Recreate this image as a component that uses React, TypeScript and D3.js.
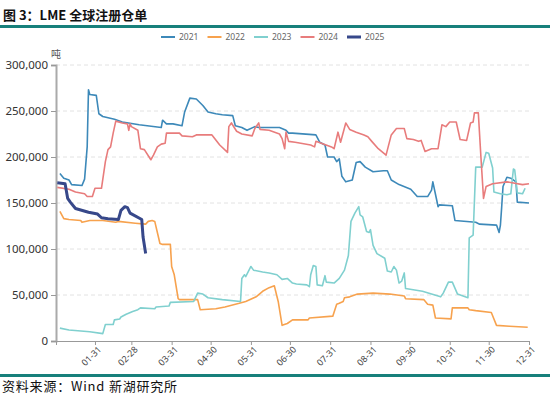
import React, { useEffect, useRef } from 'react';
import * as d3 from 'd3';

const years = ['2021', '2022', '2023', '2024', '2025'];
const colors = ['#3d89b9', '#f7a24e', '#80d0cf', '#e87c7c', '#37488a'];
const tickDates = ['01-31', '02-28', '03-31', '04-30', '05-31', '06-30', '07-31', '08-31', '09-30', '10-31', '11-30', '12-31'];
const yTicks = [0, 50000, 100000, 150000, 200000, 250000, 300000];

// values in tonnes
const s2021: [string, number][] = [
  ['01-04', 182000], ['01-07', 177000], ['01-11', 175000], ['01-13', 170000], ['01-21', 169000],
  ['01-23', 176000], ['01-25', 211000], ['01-26', 273000], ['01-27', 268000], ['02-01', 267000],
  ['02-03', 247000], ['02-06', 244000], ['02-15', 241000], ['02-21', 238000], ['03-06', 235000],
  ['03-23', 232000], ['03-24', 240000], ['03-27', 236000], ['04-01', 236000], ['04-08', 234000],
  ['04-10', 249000], ['04-14', 264000], ['04-19', 263000], ['04-24', 256000], ['04-28', 249000],
  ['05-04', 247000], ['05-09', 246000], ['05-17', 245000], ['05-19', 234000], ['05-24', 232000],
  ['05-28', 229000], ['06-03', 233000], ['06-06', 232000], ['06-22', 232000], ['06-27', 229000],
  ['06-29', 226000], ['07-02', 226000], ['07-20', 224000], ['07-23', 216000], ['07-27', 213000],
  ['07-29', 200000], ['08-03', 200000], ['08-05', 195000], ['08-07', 198000], ['08-09', 179000],
  ['08-12', 173000], ['08-17', 175000], ['08-20', 194000], ['08-23', 195000], ['08-27', 189000],
  ['09-02', 184000], ['09-10', 185000], ['09-13', 185000], ['09-16', 175000], ['09-22', 170000],
  ['10-01', 165000], ['10-06', 157000], ['10-14', 157000], ['10-17', 164000], ['10-18', 173000],
  ['10-21', 153000], ['10-22', 146000], ['10-23', 148000], ['11-02', 147000], ['11-04', 131000],
  ['11-20', 129000], ['11-23', 127000], ['12-06', 126000], ['12-08', 118000], ['12-09', 126000],
  ['12-10', 146000], ['12-11', 168000], ['12-14', 178000], ['12-17', 177000], ['12-21', 173000],
  ['12-22', 151000], ['12-31', 150000],
];

const s2022: [string, number][] = [
  ['01-04', 141000], ['01-07', 133000], ['01-11', 132000], ['01-20', 131000], ['01-21', 129000],
  ['01-27', 131000], ['02-06', 131000], ['02-16', 129000], ['02-18', 130000], ['03-03', 128000],
  ['03-11', 127000], ['03-13', 130000], ['03-16', 131000], ['03-18', 130000], ['03-22', 106000],
  ['03-24', 105000], ['03-30', 105000], ['03-31', 81000], ['04-02', 72000], ['04-05', 46000],
  ['04-06', 45000], ['04-20', 45000], ['04-22', 34000], ['05-04', 35000], ['05-11', 37000],
  ['05-22', 41000], ['05-27', 43000], ['06-04', 48000], ['06-09', 54000], ['06-14', 58000],
  ['06-18', 60000], ['06-21', 43000], ['06-24', 17000], ['06-28', 19000], ['07-02', 23000],
  ['07-14', 23000], ['07-15', 25000], ['08-02', 27000], ['08-05', 40000], ['08-07', 41000],
  ['08-10', 43000], ['08-11', 47000], ['08-15', 48000], ['08-21', 51000], ['09-02', 52000],
  ['09-15', 51000], ['09-26', 49000], ['09-27', 46000], ['10-11', 45000], ['10-14', 40000],
  ['10-18', 39000], ['10-20', 25000], ['11-01', 24000], ['11-02', 36000], ['11-14', 36000],
  ['11-15', 34000], ['11-20', 33000], ['12-02', 31000], ['12-06', 17000], ['12-16', 16000],
  ['12-30', 15000],
];

const s2023: [string, number][] = [
  ['01-04', 14000], ['01-11', 12000], ['01-27', 10000], ['02-06', 8000], ['02-08', 18000],
  ['02-14', 18000], ['02-15', 23000], ['02-19', 24000], ['02-20', 26000], ['02-24', 29000],
  ['03-01', 32000], ['03-05', 34000], ['03-07', 36000], ['03-18', 35000], ['03-19', 37000],
  ['03-29', 38000], ['03-30', 42000], ['04-17', 43000], ['04-20', 52000], ['04-24', 51000],
  ['04-28', 47000], ['05-09', 45000], ['05-23', 43000], ['05-24', 68000], ['05-26', 72000],
  ['05-27', 70000], ['05-31', 81000], ['06-02', 77000], ['06-09', 75000], ['06-14', 74000],
  ['06-20', 72000], ['06-24', 67000], ['06-28', 68000], ['07-02', 63000], ['07-05', 62000],
  ['07-13', 61000], ['07-15', 59000], ['07-16', 72000], ['07-18', 82000], ['07-20', 81000],
  ['07-21', 61000], ['07-25', 60000], ['07-27', 71000], ['07-28', 64000], ['08-03', 63000],
  ['08-07', 68000], ['08-11', 77000], ['08-14', 93000], ['08-16', 130000], ['08-19', 139000],
  ['08-22', 146000], ['08-23', 137000], ['08-25', 135000], ['08-28', 119000], ['08-30', 118000],
  ['08-31', 121000], ['09-02', 104000], ['09-05', 95000], ['09-11', 90000], ['09-13', 76000],
  ['09-16', 75000], ['09-18', 81000], ['09-20', 77000], ['09-22', 63000], ['09-24', 65000],
  ['09-26', 74000], ['09-27', 57000], ['10-10', 54000], ['10-24', 48000], ['10-26', 52000],
  ['10-30', 64000], ['11-02', 64000], ['11-06', 51000], ['11-14', 47000], ['11-15', 112000],
  ['11-18', 115000], ['11-20', 189000], ['11-25', 189000], ['11-28', 205000], ['11-30', 204000],
  ['12-03', 188000], ['12-04', 162000], ['12-09', 160000], ['12-14', 159000], ['12-17', 160000],
  ['12-19', 187000], ['12-20', 186000], ['12-22', 161000], ['12-26', 160000], ['12-28', 166000],
];

const s2024: [string, number][] = [
  ['01-02', 167000], ['01-11', 165000], ['01-16', 162000], ['01-23', 160000], ['01-25', 157000],
  ['01-29', 157000], ['01-31', 166000], ['02-05', 166000], ['02-08', 195000], ['02-10', 208000],
  ['02-12', 211000], ['02-14', 226000], ['02-16', 239000], ['02-21', 237000], ['02-25', 236000],
  ['02-26', 229000], ['02-27', 236000], ['02-28', 233000], ['03-05', 229000], ['03-07', 209000],
  ['03-10', 208000], ['03-15', 197000], ['03-17', 202000], ['03-20', 211000], ['03-23', 214000],
  ['03-26', 215000], ['03-27', 226000], ['04-06', 226000], ['04-08', 223000], ['04-16', 222000],
  ['04-19', 224000], ['05-01', 224000], ['05-07', 213000], ['05-13', 205000], ['05-14', 233000],
  ['05-16', 237000], ['05-20', 228000], ['05-24', 225000], ['06-01', 223000], ['06-03', 231000],
  ['06-06', 237000], ['06-07', 230000], ['06-14', 229000], ['06-22', 225000], ['06-24', 220000],
  ['06-26', 209000], ['06-27', 227000], ['06-29', 217000], ['07-04', 216000], ['07-16', 213000],
  ['07-19', 211000], ['07-20', 217000], ['08-01', 211000], ['08-03', 209000], ['08-06', 227000],
  ['08-08', 216000], ['08-12', 237000], ['08-15', 230000], ['08-20', 227000], ['08-26', 224000],
  ['08-29', 222000], ['09-01', 217000], ['09-06', 209000], ['09-12', 202000], ['09-16', 224000],
  ['09-20', 231000], ['09-26', 231000], ['09-28', 220000], ['10-03', 219000], ['10-07', 217000],
  ['10-09', 218000], ['10-12', 206000], ['10-17', 209000], ['10-22', 209000], ['10-25', 235000],
  ['10-28', 233000], ['10-31', 238000], ['11-05', 238000], ['11-08', 219000], ['11-13', 218000],
  ['11-16', 237000], ['11-18', 238000], ['11-19', 248000], ['11-22', 248000], ['11-24', 200000],
  ['11-26', 155000], ['11-28', 168000], ['12-03', 171000], ['12-14', 173000], ['12-26', 170000],
  ['12-31', 171000],
];

const s2025: [string, number][] = [
  ['01-02', 172000], ['01-08', 171000], ['01-10', 155000], ['01-12', 151000], ['01-16', 144000],
  ['01-26', 140000], ['02-02', 138000], ['02-05', 134000], ['02-10', 133000], ['02-18', 132000],
  ['02-20', 142000], ['02-23', 146000], ['02-25', 145000], ['02-27', 139000], ['03-08', 132000],
  ['03-09', 113000], ['03-11', 95000],
];

const seriesList = [s2021, s2022, s2023, s2024, s2025];

const W = 550;
const H = 399;
const margin = { top: 65, right: 21, bottom: 58, left: 56 };

const parse = (md: string) => d3.timeParse('%Y-%m-%d')('2021-' + md) as Date;

function App() {
  const ref = useRef<SVGSVGElement>(null);

  useEffect(() => {
    const svg = d3.select(ref.current);
    svg.selectAll('*').remove();

    const xScale = d3
      .scaleTime()
      .domain([parse('01-01'), parse('12-31')])
      .range([margin.left, W - margin.right]);
    const yScale = d3
      .scaleLinear()
      .domain([0, 300000])
      .range([H - margin.bottom, margin.top]);

    // title + rules
    svg.append('text')
      .attr('x', 3).attr('y', 20)
      .attr('font-family', '"Noto Sans CJK SC", sans-serif')
      .attr('font-weight', 'bold')
      .attr('font-size', 13)
      .attr('fill', '#111')
      .text('图 3：LME 全球注册仓单');
    svg.append('rect').attr('x', 0).attr('y', 25).attr('width', W).attr('height', 3).attr('fill', '#17807b');
    svg.append('rect').attr('x', 0).attr('y', 374).attr('width', W).attr('height', 3).attr('fill', '#17807b');
    svg.append('text')
      .attr('x', 2).attr('y', 391)
      .attr('font-family', '"Noto Sans CJK SC", sans-serif')
      .attr('font-size', 13)
      .attr('letter-spacing', 0.8)
      .attr('fill', '#111')
      .text('资料来源：Wind 新湖研究所');

    // legend
    const legend = svg.append('g').attr('transform', 'translate(161,37)');
    years.forEach((yr, i) => {
      const g = legend.append('g').attr('transform', `translate(${i * 46.5},0)`);
      g.append('line').attr('x1', 0).attr('x2', 14).attr('y1', 0).attr('y2', 0)
        .attr('stroke', colors[i]).attr('stroke-width', i === 4 ? 3 : 2);
      g.append('text').attr('x', 18).attr('y', 3)
        .attr('font-family', '"Noto Sans", sans-serif').attr('font-size', 8.5)
        .attr('fill', '#666').text(yr);
    });

    // grid
    svg.append('g')
      .selectAll('line')
      .data(yTicks.slice(1))
      .join('line')
      .attr('x1', margin.left).attr('x2', W - margin.right)
      .attr('y1', (d) => yScale(d)).attr('y2', (d) => yScale(d))
      .attr('stroke', '#e2e2e2').attr('stroke-dasharray', '4,3');

    // y axis
    const yAxis = d3.axisLeft(yScale).tickValues(yTicks).tickFormat(d3.format(',')).tickSize(5).tickPadding(3);
    const gy = svg.append('g').attr('transform', `translate(${margin.left},0)`).call(yAxis);
    gy.select('.domain').attr('stroke', '#aaa').attr('stroke-width', 2);
    gy.selectAll('.tick line').attr('stroke', '#999');
    gy.selectAll('.tick text')
      .attr('font-family', '"Noto Sans", sans-serif').attr('font-size', 11.5).attr('fill', '#333');
    svg.append('text').attr('x', 56).attr('y', 58).attr('text-anchor', 'middle')
      .attr('font-family', '"Noto Sans CJK SC", sans-serif').attr('font-size', 10).attr('fill', '#555')
      .text('吨');

    // x axis
    const xTicks = tickDates.map(parse);
    const xAxis = d3.axisBottom(xScale).tickValues(xTicks).tickSize(4).tickFormat(() => '');
    const gx = svg.append('g').attr('transform', `translate(0,${H - margin.bottom})`).call(xAxis);
    gx.select('.domain').attr('stroke', '#999');
    gx.selectAll('.tick line').attr('stroke', '#999');
    svg.append('g')
      .selectAll('text')
      .data(xTicks)
      .join('text')
      .attr('transform', (d) => `translate(${xScale(d) + 7},350) rotate(-45)`)
      .attr('text-anchor', 'end')
      .attr('font-family', '"Noto Sans", sans-serif').attr('font-size', 9).attr('fill', '#444')
      .text((d, i) => tickDates[i]);

    // lines
    const line = d3.line<[string, number]>()
      .x((d) => xScale(parse(d[0])))
      .y((d) => yScale(d[1]));
    seriesList.forEach((s, i) => {
      svg.append('path')
        .datum(s)
        .attr('d', line)
        .attr('fill', 'none')
        .attr('stroke', colors[i])
        .attr('stroke-width', i === 4 ? 3 : 1.6)
        .attr('stroke-linejoin', 'round');
    });
  }, []);

  return (
    <svg
      ref={ref}
      width={W}
      height={H}
      style={{ position: 'absolute', left: 0, top: 0, background: '#fff' }}
    />
  );
}

export default App;
